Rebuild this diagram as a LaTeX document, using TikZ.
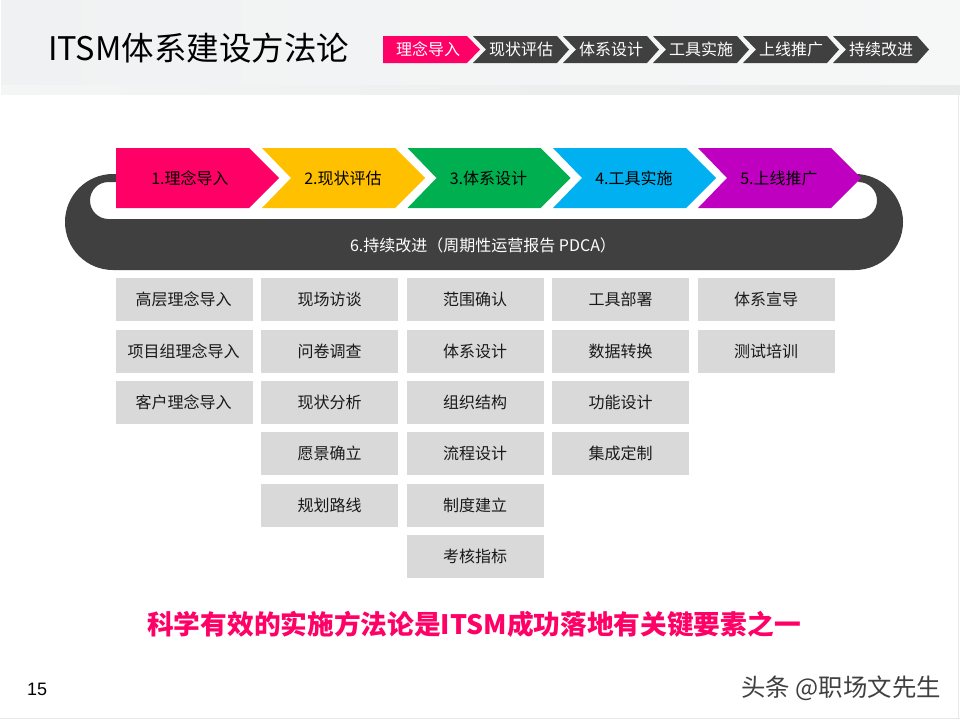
\documentclass[tikz,border=0pt]{standalone}
\usepackage{fontspec}
\setmainfont{Noto Sans CJK SC}
\newfontfamily\numfont{Liberation Sans}
\definecolor{pinkc}{HTML}{FF0066}
\definecolor{yellowc}{HTML}{FFC000}
\definecolor{greenc}{HTML}{00B050}
\definecolor{bluec}{HTML}{00B0F0}
\definecolor{purplec}{HTML}{C000C0}
\definecolor{darkc}{HTML}{404040}
\definecolor{greyc}{HTML}{D9D9D9}
\definecolor{headl}{HTML}{F0F1F2}
\definecolor{headr}{HTML}{F6F7F7}
\definecolor{headbl}{HTML}{F4F5F5}
\definecolor{headb}{HTML}{E8E9E9}
\tikzset{
  x=1pt,y=-1pt,
  lab/.style={font=\fontsize{16}{18}\selectfont,inner sep=0pt,text=black,text height=12pt,text depth=0pt},
  wlab/.style={lab,text=white},
  cellbox/.style={fill=greyc,minimum width=137pt,minimum height=43pt,inner sep=0pt,anchor=north west,font=\fontsize{16}{18}\selectfont,text=black!90,text height=12pt,text depth=0.5pt},
}
\newcommand{\bigchev}[4]{% start x, color, name, text
  \fill[#2] (#1,148) -- ++(133,0) -- ++(30,30) -- ++(-30,30) -- ++(-133,0) -- ++(29,-30) -- cycle;
  \node[lab] (#3) at (#1+81,178) {#4};}
\newcommand{\topchev}[3]{% start x, name, text
  \fill[darkc] (#1,36) -- ++(84,0) -- ++(12,13.5) -- ++(-12,13.5) -- ++(-84,0) -- ++(13,-13.5) -- cycle;
  \node[wlab] (#2) at (#1+48,49) {#3};}
\begin{document}
\begin{tikzpicture}
\useasboundingbox (0,0) rectangle (960,720);
\fill[white] (0,0) rectangle (960,720);
\fill[left color=headl,right color=headr] (1,0) rectangle (960,85);
\fill[left color=headbl,right color=headb] (1,85) rectangle (960,94);
\draw[line width=1pt,headb] (0,718.5) -- (960,718.5);
\draw[line width=1pt,headb] (958.5,95) -- (958.5,718);
\node[anchor=west,inner sep=0pt,font=\fontsize{32.5}{36}\selectfont,text=black] (title) at (48,48) {ITSM体系建设方法论};
% top chevrons
\fill[pinkc] (383,36) -- (467,36) -- (480,49.5) -- (467,63) -- (383,63) -- cycle;
\node[wlab] (t1) at (428,49) {理念导入};
\topchev{473}{t2}{现状评估}
\topchev{563}{t3}{体系设计}
\topchev{653}{t4}{工具实施}
\topchev{743}{t5}{上线推广}
\topchev{833}{t6}{持续改进}
% loop band
\fill[darkc] (116,174) -- (113,174) arc[start angle=90,end angle=270,radius=48pt]
  -- (855,270) arc[start angle=-90,end angle=90,radius=48pt]
  -- (858.5,182) arc[start angle=90,end angle=-90,radius=18.5pt]
  -- (108.5,219) arc[start angle=270,end angle=90,radius=18.5pt]
  -- (116,182) -- cycle;
\node[wlab] (band) at (483,245) {6.持续改进（周期性运营报告 PDCA）};
% main chevrons
\fill[pinkc] (116,148) -- (249,148) -- (279,178) -- (249,208) -- (116,208) -- cycle;
\node[lab] (m1) at (190,178) {1.理念导入};
\bigchev{262}{yellowc}{m2}{2.现状评估}
\bigchev{407.5}{greenc}{m3}{3.体系设计}
\bigchev{553}{bluec}{m4}{4.工具实施}
\bigchev{698}{purplec}{m5}{5.上线推广}
% cells
\node[cellbox] (a1) at (115.5,278) {\hspace{-1pt}高层理念导入};
\node[cellbox] (a2) at (115.5,330) {\hspace{-1pt}项目组理念导入};
\node[cellbox] (a3) at (115.5,381) {\hspace{-1pt}客户理念导入};
\node[cellbox] (b1) at (261,278) {现场访谈};
\node[cellbox] (b2) at (261,330) {问卷调查};
\node[cellbox] (b3) at (261,381) {现状分析};
\node[cellbox] (b4) at (261,432) {愿景确立};
\node[cellbox] (b5) at (261,484) {规划路线};
\node[cellbox] (c1) at (406.5,278) {范围确认};
\node[cellbox] (c2) at (406.5,330) {体系设计};
\node[cellbox] (c3) at (406.5,381) {组织结构};
\node[cellbox] (c4) at (406.5,432) {流程设计};
\node[cellbox] (c5) at (406.5,484) {制度建立};
\node[cellbox] (c6) at (406.5,535) {考核指标};
\node[cellbox] (d1) at (552,278) {工具部署};
\node[cellbox] (d2) at (552,330) {数据转换};
\node[cellbox] (d3) at (552,381) {功能设计};
\node[cellbox] (d4) at (552,432) {集成定制};
\node[cellbox] (e1) at (697.5,278) {体系宣导};
\node[cellbox] (e2) at (697.5,330) {测试培训};
% footer
\node[inner sep=0pt,font=\fontsize{26.7}{30}\bfseries\selectfont,text=pinkc] (slogan) at (474,624) {科学有效的实施方法论是ITSM成功落地有关键要素之一};
\node[anchor=west,inner sep=0pt,font=\numfont\fontsize{18}{20}\selectfont,text=black] (page) at (27,689) {15};
\node[anchor=east,inner sep=0pt,font=\fontsize{24.4}{26}\selectfont,text=darkc] (mark) at (941,688) {头条 @职场文先生};
\end{tikzpicture}
\end{document}
